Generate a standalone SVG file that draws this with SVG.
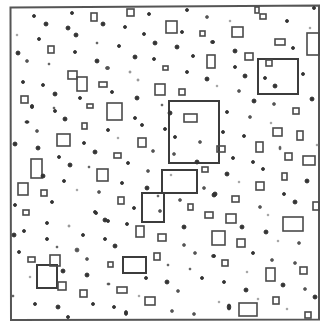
<svg xmlns="http://www.w3.org/2000/svg" width="321" height="323" viewBox="0 0 321 323">
<style>
.f{fill:none;stroke:#555;stroke-width:2}
.R{fill:none;stroke:#3c3c3c;stroke-width:2}
.r{fill:none;stroke:#4a4a4a;stroke-width:1.6}
.d{fill:#333;stroke:#333;stroke-width:0.9}
.m{fill:#555;stroke:#555;stroke-width:0.7}
.l{fill:#999;stroke:#999;stroke-width:0.5}
</style>
<rect width="321" height="323" fill="#fff"/>
<g id="frame"><polygon class="f" points="10.5,7.5 319,5.5 319,319.5 11,320"/></g>
<g id="large">
<rect class="R" x="169" y="101" width="50" height="62"/>
<rect class="R" x="162" y="170" width="35" height="23"/>
<rect class="R" x="142" y="193" width="22" height="29"/>
<rect class="R" x="258" y="59" width="40" height="35"/>
<rect class="R" x="37" y="265" width="20" height="23"/>
<rect class="R" x="123" y="257" width="23" height="16"/>
</g>
<g id="rects">
<rect class="r" x="68" y="71" width="9" height="8"/>
<rect class="r" x="77" y="77" width="10" height="14"/>
<rect class="r" x="48" y="46" width="6" height="7"/>
<rect class="r" x="91" y="13" width="6" height="8"/>
<rect class="r" x="21" y="96" width="7" height="7"/>
<rect class="r" x="99" y="82" width="8" height="5"/>
<rect class="r" x="87" y="104" width="6" height="4"/>
<rect class="r" x="127" y="9" width="7" height="7"/>
<rect class="r" x="166" y="21" width="11" height="12"/>
<rect class="r" x="200" y="31" width="5" height="5"/>
<rect class="r" x="207" y="55" width="8" height="13"/>
<rect class="r" x="155" y="84" width="10" height="11"/>
<rect class="r" x="179" y="89" width="6" height="6"/>
<rect class="r" x="107" y="103" width="15" height="17"/>
<rect class="r" x="232" y="27" width="11" height="10"/>
<rect class="r" x="275" y="39" width="10" height="6"/>
<rect class="r" x="307" y="33" width="12" height="22"/>
<rect class="r" x="245" y="53" width="8" height="7"/>
<rect class="r" x="266" y="60" width="6" height="6"/>
<rect class="r" x="255" y="7" width="4" height="6"/>
<rect class="r" x="260" y="14" width="6" height="5"/>
<rect class="r" x="184" y="114" width="13" height="8"/>
<rect class="r" x="138" y="138" width="8" height="9"/>
<rect class="r" x="114" y="153" width="7" height="5"/>
<rect class="r" x="118" y="197" width="6" height="7"/>
<rect class="r" x="188" y="204" width="5" height="6"/>
<rect class="r" x="202" y="167" width="6" height="5"/>
<rect class="r" x="57" y="134" width="13" height="12"/>
<rect class="r" x="31" y="159" width="11" height="19"/>
<rect class="r" x="18" y="183" width="10" height="12"/>
<rect class="r" x="97" y="169" width="11" height="12"/>
<rect class="r" x="82" y="123" width="5" height="6"/>
<rect class="r" x="23" y="210" width="6" height="5"/>
<rect class="r" x="41" y="190" width="6" height="6"/>
<rect class="r" x="273" y="128" width="9" height="8"/>
<rect class="r" x="297" y="131" width="6" height="9"/>
<rect class="r" x="256" y="142" width="7" height="10"/>
<rect class="r" x="285" y="153" width="7" height="7"/>
<rect class="r" x="303" y="156" width="12" height="9"/>
<rect class="r" x="217" y="146" width="8" height="6"/>
<rect class="r" x="256" y="182" width="8" height="8"/>
<rect class="r" x="293" y="108" width="6" height="6"/>
<rect class="r" x="282" y="173" width="5" height="7"/>
<rect class="r" x="232" y="196" width="7" height="6"/>
<rect class="r" x="313" y="202" width="6" height="8"/>
<rect class="r" x="28" y="257" width="7" height="5"/>
<rect class="r" x="50" y="255" width="10" height="11"/>
<rect class="r" x="58" y="282" width="8" height="8"/>
<rect class="r" x="80" y="290" width="7" height="7"/>
<rect class="r" x="136" y="226" width="8" height="11"/>
<rect class="r" x="158" y="234" width="8" height="7"/>
<rect class="r" x="205" y="212" width="8" height="6"/>
<rect class="r" x="212" y="231" width="13" height="14"/>
<rect class="r" x="154" y="253" width="6" height="7"/>
<rect class="r" x="108" y="262" width="5" height="5"/>
<rect class="r" x="117" y="287" width="10" height="6"/>
<rect class="r" x="145" y="297" width="10" height="8"/>
<rect class="r" x="226" y="214" width="10" height="9"/>
<rect class="r" x="283" y="217" width="20" height="14"/>
<rect class="r" x="237" y="239" width="8" height="8"/>
<rect class="r" x="266" y="268" width="9" height="13"/>
<rect class="r" x="239" y="303" width="18" height="13"/>
<rect class="r" x="273" y="297" width="6" height="7"/>
<rect class="r" x="300" y="267" width="7" height="7"/>
<rect class="r" x="305" y="312" width="6" height="6"/>
<rect class="r" x="222" y="260" width="6" height="6"/>
<rect class="r" x="163" y="66" width="5" height="4"/>
</g>
<g id="dots">
<circle class="d" cx="34" cy="16" r="1.5"/>
<circle class="d" cx="72" cy="13" r="1.5"/>
<circle class="d" cx="46" cy="24" r="2"/>
<circle class="d" cx="68" cy="28" r="2"/>
<circle class="d" cx="76" cy="35" r="2"/>
<circle class="d" cx="103" cy="24" r="2"/>
<circle class="l" cx="17" cy="35" r="1"/>
<circle class="d" cx="39" cy="39" r="1.5"/>
<circle class="m" cx="97" cy="43" r="1"/>
<circle class="d" cx="18" cy="53" r="2"/>
<circle class="d" cx="75" cy="52" r="1.5"/>
<circle class="m" cx="27" cy="61" r="1.5"/>
<circle class="m" cx="49" cy="64" r="1"/>
<circle class="d" cx="97" cy="61" r="2"/>
<circle class="m" cx="107" cy="68" r="1.5"/>
<circle class="d" cx="23" cy="82" r="1.5"/>
<circle class="d" cx="43" cy="85" r="1.5"/>
<circle class="d" cx="55" cy="94" r="2"/>
<circle class="d" cx="80" cy="98" r="1.5"/>
<circle class="d" cx="32" cy="106" r="1.5"/>
<circle class="m" cx="54" cy="108" r="1"/>
<circle class="d" cx="149" cy="14" r="1.5"/>
<circle class="d" cx="187" cy="10" r="1.5"/>
<circle class="m" cx="207" cy="17" r="1.5"/>
<circle class="d" cx="125" cy="27" r="1.5"/>
<circle class="d" cx="182" cy="32" r="1.5"/>
<circle class="d" cx="144" cy="34" r="1.5"/>
<circle class="m" cx="212" cy="42" r="1.5"/>
<circle class="d" cx="155" cy="43" r="2"/>
<circle class="d" cx="119" cy="46" r="1.5"/>
<circle class="d" cx="177" cy="47" r="2"/>
<circle class="d" cx="135" cy="57" r="2"/>
<circle class="d" cx="154" cy="59" r="1.5"/>
<circle class="d" cx="193" cy="56" r="1.5"/>
<circle class="m" cx="108" cy="68" r="1.5"/>
<circle class="l" cx="130" cy="72" r="1.2"/>
<circle class="d" cx="187" cy="72" r="1.5"/>
<circle class="l" cx="138" cy="80" r="1.2"/>
<circle class="d" cx="207" cy="79" r="2"/>
<circle class="d" cx="112" cy="92" r="1.5"/>
<circle class="d" cx="137" cy="98" r="2"/>
<circle class="m" cx="162" cy="105" r="1"/>
<circle class="d" cx="314" cy="8" r="1.5"/>
<circle class="d" cx="287" cy="21" r="1.5"/>
<circle class="l" cx="230" cy="21" r="1"/>
<circle class="l" cx="310" cy="28" r="1"/>
<circle class="d" cx="213" cy="42" r="1.5"/>
<circle class="d" cx="293" cy="48" r="1.5"/>
<circle class="d" cx="235" cy="51" r="2"/>
<circle class="d" cx="235" cy="67" r="1.5"/>
<circle class="d" cx="245" cy="76" r="2"/>
<circle class="d" cx="265" cy="78" r="1.5"/>
<circle class="d" cx="303" cy="74" r="1.5"/>
<circle class="d" cx="275" cy="86" r="2"/>
<circle class="l" cx="217" cy="86" r="1"/>
<circle class="m" cx="239" cy="91" r="1.5"/>
<circle class="d" cx="254" cy="101" r="2"/>
<circle class="m" cx="274" cy="104" r="1.5"/>
<circle class="d" cx="312" cy="99" r="2"/>
<circle class="d" cx="32" cy="107" r="1.5"/>
<circle class="d" cx="55" cy="111" r="1.5"/>
<circle class="d" cx="65" cy="119" r="2"/>
<ellipse class="d" cx="27" cy="122" rx="2" ry="1.3"/>
<circle class="m" cx="37" cy="131" r="1.5"/>
<circle class="d" cx="15" cy="144" r="2"/>
<circle class="d" cx="38" cy="148" r="2"/>
<circle class="d" cx="84" cy="143" r="1.5"/>
<circle class="d" cx="95" cy="152" r="2"/>
<circle class="d" cx="59" cy="157" r="1.5"/>
<circle class="d" cx="70" cy="165" r="2"/>
<circle class="m" cx="89" cy="167" r="1"/>
<circle class="d" cx="43" cy="176" r="2"/>
<circle class="d" cx="64" cy="181" r="1.5"/>
<circle class="l" cx="77" cy="190" r="1"/>
<circle class="m" cx="99" cy="192" r="1.5"/>
<circle class="d" cx="52" cy="202" r="1.5"/>
<circle class="d" cx="15" cy="205" r="1.5"/>
<circle class="d" cx="95" cy="212" r="1.5"/>
<circle class="d" cx="135" cy="118" r="1.5"/>
<circle class="d" cx="142" cy="125" r="1.5"/>
<circle class="d" cx="165" cy="129" r="1.5"/>
<circle class="d" cx="170" cy="113" r="2"/>
<circle class="d" cx="108" cy="130" r="1.5"/>
<circle class="l" cx="118" cy="138" r="1"/>
<circle class="m" cx="153" cy="151" r="1.5"/>
<circle class="d" cx="175" cy="137" r="1.5"/>
<circle class="m" cx="200" cy="142" r="1.5"/>
<circle class="m" cx="174" cy="154" r="1.5"/>
<circle class="d" cx="128" cy="163" r="1.5"/>
<circle class="d" cx="197" cy="162" r="2"/>
<circle class="m" cx="148" cy="171" r="1.5"/>
<circle class="l" cx="171" cy="175" r="1"/>
<circle class="d" cx="122" cy="183" r="1.5"/>
<circle class="d" cx="147" cy="188" r="2"/>
<circle class="m" cx="204" cy="188" r="1.5"/>
<circle class="d" cx="214" cy="195" r="2"/>
<circle class="m" cx="158" cy="196" r="1"/>
<circle class="m" cx="180" cy="200" r="1.5"/>
<circle class="d" cx="134" cy="208" r="1.5"/>
<circle class="m" cx="160" cy="211" r="1.5"/>
<circle class="d" cx="227" cy="112" r="1.5"/>
<circle class="m" cx="250" cy="117" r="1.5"/>
<circle class="l" cx="271" cy="123" r="1"/>
<circle class="d" cx="223" cy="132" r="1.5"/>
<circle class="d" cx="244" cy="136" r="1.5"/>
<ellipse class="m" cx="280" cy="148" rx="1" ry="2"/>
<circle class="l" cx="317" cy="145" r="1"/>
<circle class="d" cx="233" cy="158" r="1.5"/>
<circle class="d" cx="253" cy="162" r="1.5"/>
<circle class="d" cx="263" cy="169" r="1.5"/>
<circle class="d" cx="227" cy="174" r="2"/>
<circle class="l" cx="239" cy="182" r="1"/>
<circle class="d" cx="307" cy="181" r="2"/>
<circle class="d" cx="215" cy="194" r="2"/>
<circle class="d" cx="284" cy="194" r="1.5"/>
<circle class="d" cx="295" cy="202" r="2"/>
<circle class="m" cx="260" cy="207" r="1.5"/>
<circle class="d" cx="47" cy="223" r="1.5"/>
<circle class="d" cx="96" cy="213" r="1.5"/>
<circle class="d" cx="105" cy="220" r="2"/>
<circle class="d" cx="14" cy="235" r="2"/>
<circle class="d" cx="24" cy="231" r="1.5"/>
<circle class="d" cx="47" cy="239" r="1.5"/>
<circle class="l" cx="69" cy="226" r="1.2"/>
<circle class="d" cx="83" cy="235" r="1.5"/>
<circle class="d" cx="105" cy="239" r="1.5"/>
<circle class="m" cx="57" cy="247" r="1"/>
<circle class="d" cx="19" cy="252" r="1.5"/>
<circle class="m" cx="77" cy="250" r="2"/>
<circle class="m" cx="87" cy="259" r="1.5"/>
<circle class="d" cx="63" cy="271" r="2"/>
<circle class="d" cx="87" cy="275" r="2"/>
<circle class="l" cx="30" cy="277" r="1"/>
<circle class="m" cx="108" cy="284" r="1"/>
<circle class="m" cx="13" cy="296" r="1"/>
<circle class="d" cx="35" cy="304" r="1.5"/>
<circle class="d" cx="58" cy="307" r="2"/>
<circle class="d" cx="93" cy="304" r="1.5"/>
<circle class="d" cx="68" cy="317" r="1.5"/>
<circle class="d" cx="108" cy="221" r="1.5"/>
<circle class="d" cx="127" cy="224" r="1.5"/>
<circle class="d" cx="184" cy="227" r="2"/>
<circle class="d" cx="115" cy="246" r="2"/>
<circle class="m" cx="184" cy="245" r="1.5"/>
<circle class="m" cx="195" cy="253" r="1.5"/>
<circle class="m" cx="213" cy="256" r="1.5"/>
<circle class="m" cx="168" cy="265" r="1"/>
<circle class="m" cx="190" cy="269" r="1"/>
<circle class="d" cx="202" cy="278" r="1.5"/>
<circle class="d" cx="146" cy="278" r="1.5"/>
<circle class="d" cx="167" cy="282" r="2"/>
<circle class="m" cx="109" cy="284" r="1"/>
<circle class="m" cx="178" cy="291" r="1.5"/>
<circle class="l" cx="139" cy="296" r="1"/>
<circle class="d" cx="114" cy="307" r="1.5"/>
<ellipse class="d" cx="126" cy="313" rx="1.6" ry="2.4"/>
<circle class="m" cx="172" cy="311" r="1.5"/>
<circle class="m" cx="194" cy="314" r="1.5"/>
<circle class="l" cx="268" cy="215" r="1"/>
<circle class="d" cx="242" cy="227" r="2"/>
<circle class="d" cx="266" cy="232" r="2"/>
<circle class="l" cx="278" cy="241" r="1"/>
<circle class="m" cx="299" cy="243" r="1.5"/>
<circle class="d" cx="253" cy="253" r="1.5"/>
<circle class="d" cx="214" cy="256" r="1.5"/>
<circle class="m" cx="272" cy="260" r="1.5"/>
<circle class="m" cx="295" cy="263" r="1.5"/>
<circle class="l" cx="247" cy="272" r="1"/>
<circle class="d" cx="224" cy="282" r="1.5"/>
<circle class="d" cx="246" cy="290" r="2"/>
<circle class="d" cx="283" cy="285" r="2"/>
<circle class="m" cx="305" cy="289" r="1.5"/>
<circle class="d" cx="315" cy="297" r="2"/>
<circle class="l" cx="258" cy="299" r="1"/>
<circle class="l" cx="219" cy="302" r="1"/>
<circle class="l" cx="287" cy="309" r="1"/>
<ellipse class="d" cx="229" cy="307" rx="1.8" ry="3"/>
</g>
</svg>
